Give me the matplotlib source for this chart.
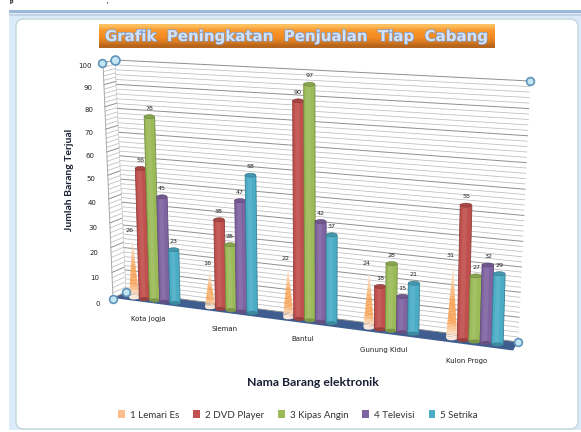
import matplotlib
matplotlib.use("Agg")
import numpy as np
import matplotlib.pyplot as plt
import matplotlib.patheffects as pe
from matplotlib.patches import Ellipse, FancyBboxPatch, Patch, Rectangle
from matplotlib.transforms import Transform
from matplotlib.colors import to_rgb

# Data
cabang = ["Kota Jogja", "Sleman", "Bantul", "Gunung Kidul", "Kulon Progo"]
lemari_es = [26, 16, 22, 24, 31]
dvd_player = [56, 38, 90, 18, 55]
kipas_angin = [78, 28, 97, 28, 27]
televisi = [45, 47, 42, 15, 32]
setrika = [23, 58, 37, 21, 29]
y_ticks = [0, 10, 20, 30, 40, 50, 60, 70, 80, 90, 100]
legend_names = ["1 Lemari Es", "2 DVD Player", "3 Kipas Angin", "4 Televisi", "5 Setrika"]
bar_colors = ["#c0504d", "#9bbb59", "#8064a2", "#4bacc6"]
cone_color = "#f9a65a"


# Maps (category, value) onto a quad in image pixels, this is the fake 3D
class Homography(Transform):
    input_dims = 2
    output_dims = 2

    def __init__(self, src, dst):
        super().__init__()
        rows, rhs = [], []
        for (x, y), (u, v) in zip(src, dst):
            rows.append([x, y, 1, 0, 0, 0, -u * x, -u * y])
            rows.append([0, 0, 0, x, y, 1, -v * x, -v * y])
            rhs += [u, v]
        h = np.linalg.solve(np.array(rows, float), np.array(rhs, float))
        self.h = np.append(h, 1).reshape(3, 3)

    def transform_non_affine(self, values):
        values = np.asarray(values, float)
        p = np.column_stack([values, np.ones(len(values))]) @ self.h.T
        return p[:, :2] / p[:, 2:]

    def inverted(self):
        raise NotImplementedError


unit = [(0, 0), (5, 0), (0, 100), (5, 100)]
wall = Homography(unit, [(126, 292), (518, 342), (115, 60), (530, 81)])
front = Homography(unit, [(117, 295.5), (517, 347), (109, 59.5), (525, 95)])
side = Homography([(0, 0), (1, 0), (0, 100), (1, 100)], [(113, 298), (126, 292), (103, 63), (115, 60)])

fig = plt.figure(figsize=(5.81, 4.32), dpi=100)
ax = fig.add_axes([0, 0, 1, 1])
ax.set_xlim(0, 581)
ax.set_ylim(432, 0)
ax.axis("off")

# Slide frame around the chart
ax.add_patch(Rectangle((9, 10), 572, 420, fc="#dcebfa", ec="none", zorder=0))
ax.add_patch(Rectangle((9, 10), 572, 3, fc="#9db9d8", ec="none", zorder=0))
ax.add_patch(Rectangle((9, 14), 572, 2, fc="#c3d4e6", ec="none", zorder=0))
ax.add_patch(FancyBboxPatch((24, 27), 546, 394, boxstyle="round,pad=8,rounding_size=8",
                            fc="white", ec="#c4d6da", lw=1, zorder=0.5))
ax.text(10, 1.5, "p", fontsize=4.5, family="Liberation Serif", weight="bold", va="center")
ax.text(107, 1, ",", fontsize=4, family="Liberation Serif", weight="bold", va="center")

# Title bar
grad = np.array([to_rgb(c) for c in ["#fcc060", "#f99a30", "#f78f24", "#f08a22", "#d87a20", "#b4641c"]])
ax.imshow(grad[:, None, :], extent=(98.5, 494, 48, 24), aspect="auto", zorder=1, interpolation="bilinear")
ax.set_xlim(0, 581)
ax.set_ylim(432, 0)
ax.text(296, 36.5, "Grafik  Peningkatan  Penjualan  Tiap  Cabang", fontsize=10.8, weight="bold",
        color="#d4e2f6", ha="center", va="center", zorder=2,
        path_effects=[pe.withStroke(linewidth=1, foreground="#7e9ccb")])

# Walls and floor
ax.fill([113, 126, 518, 513], [298, 292, 342, 350.5], color="#3f5d8f", lw=0, zorder=1)
for v in range(0, 101, 2):
    major = v % 10 == 0
    c = "#8f8f8f" if major else "#bdbdbd"
    lw = 0.7 if major else 0.55
    ax.plot([0, 5], [v, v], color=c, lw=lw, transform=wall + ax.transData, zorder=1, clip_on=False)
    ax.plot([0, 1], [v, v], color=c, lw=lw, transform=side + ax.transData, zorder=1, clip_on=False)
ax.plot([0, 0], [0, 100], color="#a8a8a8", lw=0.7, transform=side + ax.transData, zorder=1)
ax.plot([1, 1], [0, 100], color="#c9c9c9", lw=0.5, transform=side + ax.transData, zorder=1)

for v in y_ticks:
    ax.text(-0.95, v, str(v), fontsize=5, ha="right", va="center", color="#222222",
            transform=side + ax.transData, zorder=3)

# Bars
bar_w = 0.135
tr = front + ax.transData
series = [dvd_player, kipas_angin, televisi, setrika]


def px(x, v):
    return front.transform_non_affine(np.array([[x, v]]))[0]


def shade(color, k):
    c = np.array(to_rgb(color))
    return tuple(np.clip(c * (1 + k) if k < 0 else c + (1 - c) * k, 0, 1))


def draw_cone(xc, val, z):
    n = 40
    fr = np.linspace(0, 1, n + 1)
    for a, b in zip(fr[:-1], fr[1:]):
        half_a = bar_w * 0.5 * (1 - a)
        half_b = bar_w * 0.5 * (1 - b)
        # white at the tip and at the foot, orange in between
        k = max(0, 1 - a * 4.5) * 0.85 + max(0, a - 0.5) * 1.8
        col = shade(cone_color, min(k, 1))
        ax.fill([xc - half_a, xc + half_a, xc + half_b, xc - half_b],
                [val * a, val * a, val * b, val * b], color=col, lw=0, transform=tr, zorder=z)
    x0, y0 = px(xc, 0)
    ax.add_patch(Ellipse((x0, y0), 10, 3.5, fc="#fbe8da", ec="none", zorder=z))


def draw_cylinder(xc, val, color, z):
    ax.bar(xc, val, width=bar_w, color=color, edgecolor=shade(color, -0.25), lw=0.6,
           transform=tr, zorder=z)
    ax.bar(xc - bar_w * 0.08, val, width=bar_w * 0.4, color=shade(color, 0.08), lw=0,
           transform=tr, zorder=z)
    x0, y0 = px(xc, 0)
    x1, y1 = px(xc, val)
    w = px(xc + bar_w / 2, 0)[0] - px(xc - bar_w / 2, 0)[0]
    ax.add_patch(Ellipse((x0, y0), w, 4, fc=shade(color, -0.2), ec="none", zorder=z))
    ax.add_patch(Ellipse((x1, y1), w, 4, fc=shade(color, -0.12), ec=shade(color, -0.3), lw=0.4, zorder=z))


for i in range(len(cabang)):
    center = i + 0.5
    xc = center - 2 * bar_w
    draw_cone(xc, lemari_es[i], 4)
    ax.text(xc - 0.03, lemari_es[i] + 3, str(lemari_es[i]), fontsize=4.6, ha="center", va="center",
            color="#222222", transform=tr, zorder=20)
    for j, vals in enumerate(series):
        xc = center + (j - 1) * bar_w
        draw_cylinder(xc, vals[i], bar_colors[j], 5 + i + j)
        ax.text(xc, vals[i] + 3.4, str(vals[i]), fontsize=4.6, ha="center", va="center",
                color="#222222", transform=tr, zorder=20)
    ax.text(center - 0.09, -8.5, cabang[i], fontsize=5, ha="center", va="center", color="#222222",
            transform=tr, zorder=3)

# Axis titles
ax.text(313, 383, "Nama Barang elektronik", fontsize=8.8, weight="bold", family="Lato",
        color="#1a1f33", ha="center", va="center", zorder=3)
ax.text(70, 180, "Jumlah Barang Terjual", fontsize=7.5, weight="bold", family="Lato", rotation=90,
        color="#1a1f33", ha="center", va="center", zorder=3)

# Selection handles
for hx, hy, r in [(115, 60, 8), (102, 63, 7), (113, 299, 7), (126, 292, 7), (530, 81, 7), (517.5, 342, 7)]:
    ax.plot(hx, hy, "o", ms=r * 0.8, mfc="#c4e6f2", mec="#5f93bb", mew=1.2, zorder=30)

# Legend
handles = [Patch(fc="#fbbf8f", ec="none")] + [Patch(fc=c, ec="none") for c in bar_colors]
ax.legend(handles, legend_names, ncol=5, loc="center", bbox_to_anchor=(298, 415),
          bbox_transform=ax.transData, frameon=False, handlelength=0.7, handleheight=0.8,
          handletextpad=0.5, columnspacing=1.45, prop={"family": "Lato", "size": 7}, labelcolor="#333333")

fig.savefig("out.png", dpi=100)
